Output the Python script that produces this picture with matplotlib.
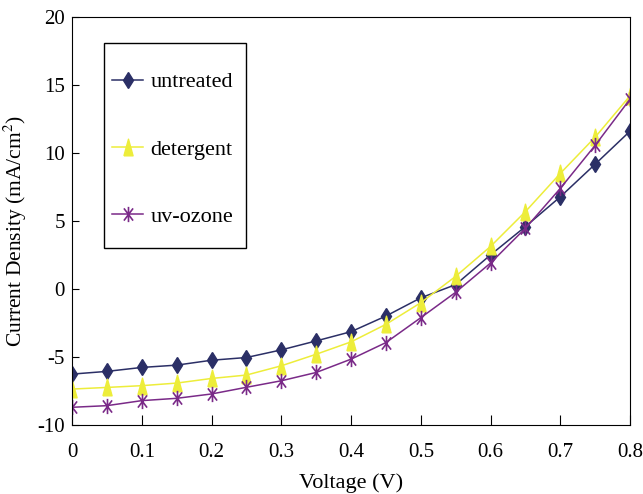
import matplotlib
matplotlib.use("Agg")
import matplotlib.pyplot as plt
from matplotlib.path import Path
from matplotlib.patches import Rectangle

plt.rcParams['font.family'] = ['Liberation Serif', 'DejaVu Serif']
plt.rcParams['mathtext.fontset'] = 'stix'
plt.rcParams['axes.unicode_minus'] = False

voltage = [0, 0.05, 0.1, 0.15, 0.2, 0.25, 0.3, 0.35, 0.4, 0.45, 0.5, 0.55, 0.6, 0.65, 0.7, 0.75, 0.8]
untreated = [-6.27, -6.07, -5.78, -5.61, -5.25, -5.05, -4.49, -3.83, -3.15, -2.0, -0.66, 0.31, 2.5, 4.58, 6.77, 9.17, 11.6]
detergent = [-7.37, -7.25, -7.12, -6.93, -6.59, -6.34, -5.66, -4.81, -3.9, -2.61, -1.02, 0.92, 3.12, 5.68, 8.49, 11.16, 14.2]
uvozone = [-8.71, -8.59, -8.22, -8.05, -7.73, -7.24, -6.76, -6.15, -5.17, -3.95, -2.12, -0.25, 1.9, 4.46, 7.39, 10.56, 13.96]

# narrow, tall markers like the excel export
tri = [(-0.55, -1), (0.55, -1), (0, 1), (-0.55, -1)]
star = Path([(0, -1), (0, 1), (-0.6, -0.8), (0.6, 0.8), (-0.6, 0.8), (0.6, -0.8)],
            [Path.MOVETO, Path.LINETO, Path.MOVETO, Path.LINETO, Path.MOVETO, Path.LINETO])

fig = plt.figure(figsize=(6.43, 4.94), dpi=100)
ax = fig.add_axes([0.112, 0.140, 0.868, 0.826])

ax.plot(voltage, untreated, color="#2b2f66", marker="d", markersize=8, lw=1.1, label="untreated")
ax.plot(voltage, detergent, color="#eded3a", marker=tri, markersize=12, lw=1.1, label="detergent")
ax.plot(voltage, uvozone, color="#7a2a88", marker=star, markersize=11, mew=1.2,
        markerfacecolor="none", lw=1.1, label="uv-ozone")

ax.set_xlim(0, 0.8)
ax.set_ylim(-10, 20)
ax.set_xticks([0, 0.1, 0.2, 0.3, 0.4, 0.5, 0.6, 0.7, 0.8])
ax.set_xticklabels(["0", "0.1", "0.2", "0.3", "0.4", "0.5", "0.6", "0.7", "0.8"])
ax.set_yticks([-10, -5, 0, 5, 10, 15, 20])
ax.tick_params(axis="x", direction="in", length=7, labelsize=15, pad=13, top=False)
ax.tick_params(axis="y", direction="in", length=5, labelsize=15, pad=5, right=False)
ax.set_xlabel("Voltage (V)", fontsize=16, labelpad=8)
ax.set_ylabel("Current Density (mA/cm$^{2}$)", fontsize=15.5)
ax.yaxis.set_label_coords(-0.077, 0.475)

# legend box drawn separately so the padding can differ on each side
ax.add_patch(Rectangle((0.0573, 0.434), 0.2545, 0.503, transform=ax.transAxes,
                       fill=False, edgecolor="black", lw=1.0, zorder=5))
ax.legend(loc="center left", bbox_to_anchor=(0.0717, 0.675), fontsize=16,
          frameon=False, labelspacing=2.1, borderpad=0, handlelength=1.4,
          handletextpad=0.32, borderaxespad=0)

fig.savefig("out.png", dpi=100)
